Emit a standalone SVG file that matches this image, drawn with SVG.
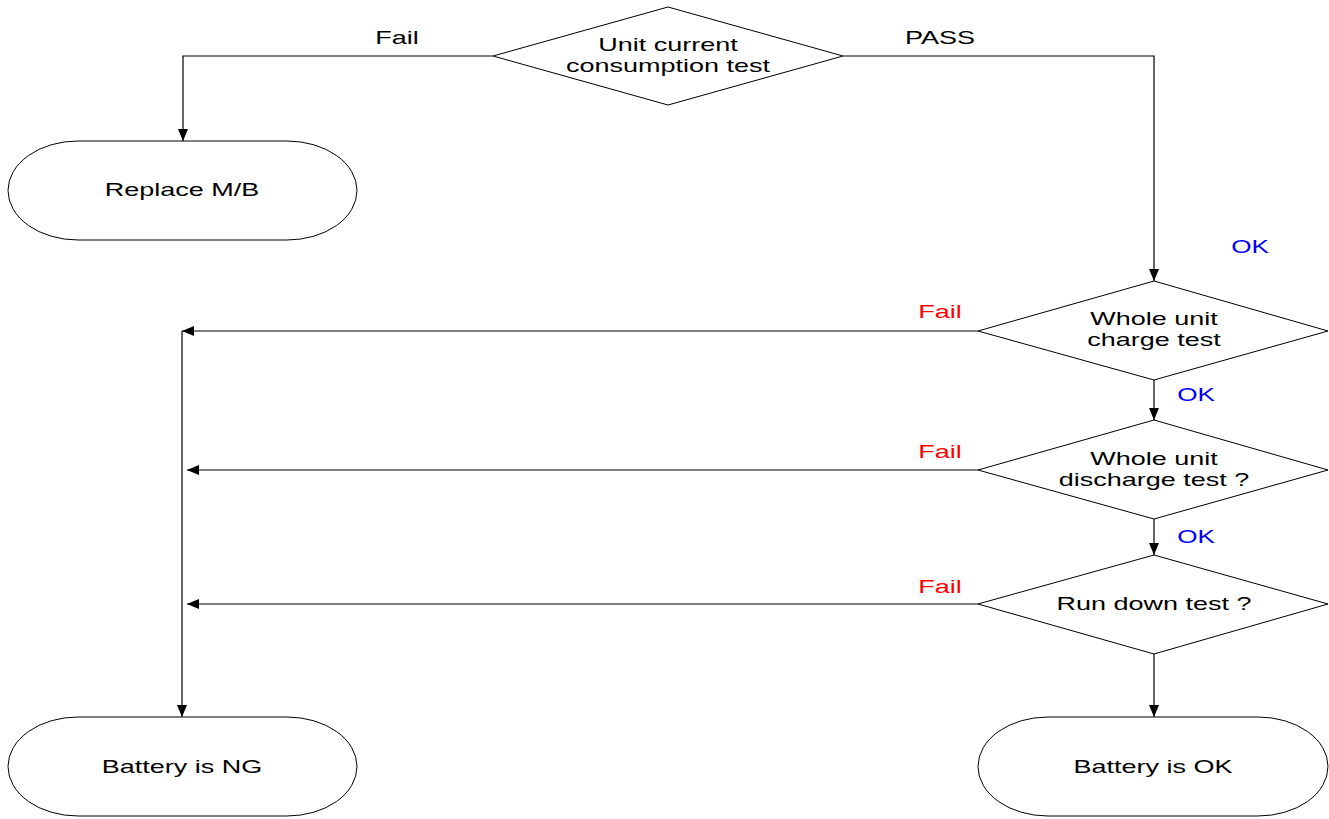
<svg xmlns="http://www.w3.org/2000/svg" width="1329" height="819" viewBox="0 0 1329 819">
<style>
.shape{fill:#fff;stroke:#000;stroke-width:1}
.conn{fill:none;stroke:#000;stroke-width:1.2}
text{font-family:"Liberation Sans",Arial,sans-serif;font-size:18px;text-anchor:middle}
.red{fill:#ff0000}
.blue{fill:#0000ff}
.blk{fill:#000}
</style>
<defs>
<marker id="arr" markerUnits="userSpaceOnUse" markerWidth="12" markerHeight="10" refX="12" refY="5" orient="auto">
<path d="M0,0 L12,5 L0,10 z" fill="#000"/>
</marker>
</defs>
<rect width="1329" height="819" fill="#fff"/>
<g id="connectors">
<path class="conn" d="M493,56 H183 V141" marker-end="url(#arr)"/>
<path class="conn" d="M843,56 H1154 V281" marker-end="url(#arr)"/>
<path class="conn" d="M978,331 H182" marker-end="url(#arr)"/>
<path class="conn" d="M182,331 V717" marker-end="url(#arr)"/>
<path class="conn" d="M1154,380 V420" marker-end="url(#arr)"/>
<path class="conn" d="M978,470 H187" marker-end="url(#arr)"/>
<path class="conn" d="M1154,519 V555" marker-end="url(#arr)"/>
<path class="conn" d="M978,604 H187" marker-end="url(#arr)"/>
<path class="conn" d="M1154,654 V717" marker-end="url(#arr)"/>
<text class="blk" transform="translate(397,44) scale(1.5,1)">Fail</text>
<text class="blk" transform="translate(940,44) scale(1.5,1)">PASS</text>
<text class="blue" transform="translate(1250,253) scale(1.45,1)">OK</text>
<text class="red" transform="translate(940,318) scale(1.5,1)">Fail</text>
<text class="blue" transform="translate(1196,401) scale(1.45,1)">OK</text>
<text class="red" transform="translate(940,458) scale(1.5,1)">Fail</text>
<text class="blue" transform="translate(1196,543) scale(1.45,1)">OK</text>
<text class="red" transform="translate(940,593) scale(1.5,1)">Fail</text>
</g>
<g id="n-unit-current">
<polygon class="shape" points="668,7 843,56 668,105 493,56"/>
<text class="blk" transform="translate(668,51) scale(1.5,1)">Unit current</text>
<text class="blk" transform="translate(668,72) scale(1.5,1)">consumption test</text>
</g>
<g id="n-replace-mb">
<path class="shape" d="M78,141 H287 A70,49.5 0 0 1 287,240 H78 A70,49.5 0 0 1 78,141 Z"/>
<text class="blk" transform="translate(182,196) scale(1.5,1)">Replace M/B</text>
</g>
<g id="n-charge">
<polygon class="shape" points="1154,281 1328,331 1154,380 978,331"/>
<text class="blk" transform="translate(1154,325) scale(1.5,1)">Whole unit</text>
<text class="blk" transform="translate(1154,346) scale(1.5,1)">charge test</text>
</g>
<g id="n-discharge">
<polygon class="shape" points="1154,420 1328,470 1154,519 978,470"/>
<text class="blk" transform="translate(1154,465) scale(1.5,1)">Whole unit</text>
<text class="blk" transform="translate(1154,486) scale(1.5,1)">discharge test ?</text>
</g>
<g id="n-rundown">
<polygon class="shape" points="1154,555 1328,604 1154,654 978,604"/>
<text class="blk" transform="translate(1154,610) scale(1.5,1)">Run down test ?</text>
</g>
<g id="n-battery-ng">
<path class="shape" d="M78,717 H287 A70,49.5 0 0 1 287,816 H78 A70,49.5 0 0 1 78,717 Z"/>
<text class="blk" transform="translate(182,773) scale(1.5,1)">Battery is NG</text>
</g>
<g id="n-battery-ok">
<path class="shape" d="M1048,717 H1258 A70,49.5 0 0 1 1258,816 H1048 A70,49.5 0 0 1 1048,717 Z"/>
<text class="blk" transform="translate(1153,773) scale(1.5,1)">Battery is OK</text>
</g>
</svg>
